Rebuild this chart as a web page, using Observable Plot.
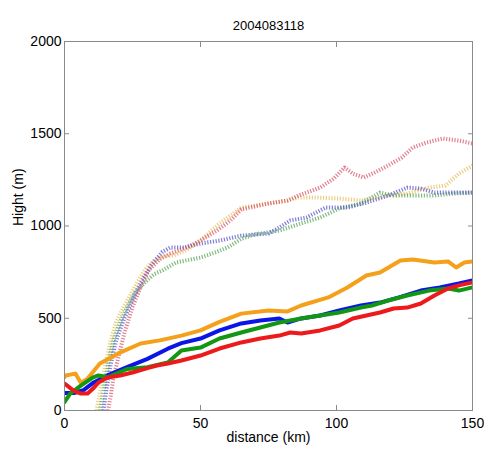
<!DOCTYPE html>
<html>
<head>
<meta charset="utf-8">
<script src="https://cdn.jsdelivr.net/npm/d3@7"></script>
<script src="https://cdn.jsdelivr.net/npm/@observablehq/plot@0.6"></script>
<style>
  html, body { margin: 0; padding: 0; background: #fff; }
  #chart svg { display: block; }
</style>
</head>
<body>
<div id="chart"></div>
<script>
const title = "2004083118";
const xLabel = "distance (km)";
const yLabel = "Hight (m)";
const xTicks = [0, 50, 100, 150];
const yTicks = [0, 500, 1000, 1500, 2000];

// Solid lines [km, m]
const solidOrange = [[0,180],[0.4,190],[4,200],[6,150],[8.5,173],[13,255],[20.6,315],[28,363],[35,380],[43,406],[50,434],[57,480],[65,525],[75,542],[82,537],[87,569],[97,613],[104,667],[111,732],[116,748],[123.5,813],[128,818],[136,802],[141,808],[144,775],[147,802],[150,808]];
const solidBlue = [[0,95],[3.5,95],[7,110],[10.5,150],[15.8,190],[23,235],[30.5,280],[38,335],[43,365],[50,390],[57,434],[65,472],[72,488],[79,499],[82,477],[87,499],[94,515],[101,542],[109,569],[116,585],[123,613],[131,650],[138,667],[145,688],[150,705]];
const solidGreen = [[0,45],[2,90],[6,135],[10.5,180],[12.5,190],[15.8,180],[23,225],[30.5,235],[38,260],[43,325],[50,341],[57,390],[65,423],[72,450],[79,477],[87,499],[94,515],[101,531],[109,558],[113,569],[119,596],[126,623],[134,650],[141,661],[145,650],[150,667]];
const solidRed = [[0,146],[1,135],[3.3,108],[6,92],[8.5,92],[10.5,119],[12.5,152],[15.8,179],[20.5,190],[25,206],[30.5,230],[34,244],[38,255],[43,271],[50,298],[57,336],[65,369],[72,390],[79,406],[83,423],[87,417],[94,434],[101,461],[106,499],[111,515],[116,531],[121,553],[126,558],[131,580],[136,623],[141,661],[145,678],[150,694]];

// Dotted lines [km, m]
const dotOrange = [[11.8,0],[13,100],[15,250],[17,380],[19,480],[21,540],[24,620],[27,700],[30,770],[33,815],[36,835],[40,840],[45,870],[50,921],[57,1014],[65,1100],[75,1122],[82,1138],[86,1154],[93,1154],[101,1149],[109,1138],[119,1165],[126,1176],[134,1208],[140,1219],[145,1284],[150,1328]];
const dotRed = [[16,0],[17,80],[18,180],[20,300],[22,420],[25,560],[28,670],[31,760],[35,820],[39,851],[45,884],[50,921],[56,975],[61,1030],[65,1090],[75,1122],[82,1138],[86,1165],[94,1208],[99,1257],[103,1317],[106,1284],[110,1263],[114,1290],[119,1328],[124,1371],[128,1425],[133,1452],[139,1474],[145,1463],[150,1447]];
const dotBlue = [[14.3,0],[15.5,120],[17,250],[19,380],[22,500],[25,600],[28,690],[32,790],[36,860],[39,884],[44,884],[50,905],[57,921],[65,948],[75,959],[79,992],[83,1030],[89,1046],[96,1100],[104,1100],[111,1127],[119,1165],[126,1208],[131,1203],[136,1181],[143,1181],[150,1181]];
const dotGreen = [[13,0],[14.5,120],[16,250],[18,380],[20.5,480],[23,560],[26,640],[30,700],[33,740],[36,759],[41,802],[50,829],[56,860],[60,884],[65,930],[70,955],[79,975],[87,1014],[94,1046],[101,1095],[109,1122],[116,1181],[121,1165],[128,1165],[136,1165],[143,1176],[150,1181]];

const dotted = [
  {data: dotOrange, color: "#e6b850"},
  {data: dotGreen, color: "#4a9e4a"},
  {data: dotBlue, color: "#4848c8"},
  {data: dotRed, color: "#d4485e"}
];
const solid = [
  {data: solidOrange, color: "#f5a01a"},
  {data: solidBlue, color: "#0b16e6"},
  {data: solidGreen, color: "#139613"},
  {data: solidRed, color: "#ec1a1a"}
];

const font = "'Liberation Sans', Arial, Helvetica, sans-serif";
const fmt = d => String(d);

const marks = [
  ...dotted.map(s => Plot.line(s.data, {x: d => d[0], y: d => d[1], stroke: s.color, strokeWidth: 4, strokeLinecap: "butt", strokeDasharray: "1.2,1.6", strokeOpacity: 0.7, clip: true})),
  ...solid.map(s => Plot.line(s.data, {x: d => d[0], y: d => d[1], stroke: s.color, strokeWidth: 4, strokeLinejoin: "round", clip: true})),
  Plot.frame({stroke: "#8a8a8a"}),
  Plot.axisX(xTicks, {anchor: "bottom", tickSize: 0, tickPadding: 8, fontSize: 14, tickFormat: fmt, label: null}),
  Plot.axisX(xTicks, {anchor: "bottom", tickSize: -5, tickFormat: () => "", stroke: "#8a8a8a", label: null}),
  Plot.axisX(xTicks, {anchor: "top", tickSize: -5, tickFormat: () => "", stroke: "#8a8a8a", label: null}),
  Plot.axisY(yTicks, {anchor: "left", tickSize: 0, tickPadding: 3, fontSize: 14, tickFormat: fmt, label: null}),
  Plot.axisY(yTicks, {anchor: "left", tickSize: -5, tickFormat: () => "", stroke: "#8a8a8a", label: null}),
  Plot.axisY(yTicks, {anchor: "right", tickSize: -5, tickFormat: () => "", stroke: "#8a8a8a", label: null}),
  Plot.text([title], {frameAnchor: "top", dy: -21, fontSize: 13}),
  Plot.text([xLabel], {frameAnchor: "bottom", dy: 31, fontSize: 14}),
  Plot.text([yLabel], {frameAnchor: "left", dx: -46, rotate: -90, fontSize: 14})
];

const chart = Plot.plot({
  width: 484,
  height: 452,
  marginLeft: 64,
  marginRight: 12,
  marginTop: 41,
  marginBottom: 42,
  x: {domain: [0, 150]},
  y: {domain: [0, 2000]},
  style: {fontFamily: font, color: "#000", background: "#fff", overflow: "visible"},
  marks
});
document.getElementById("chart").appendChild(chart);
</script>
</body>
</html>
